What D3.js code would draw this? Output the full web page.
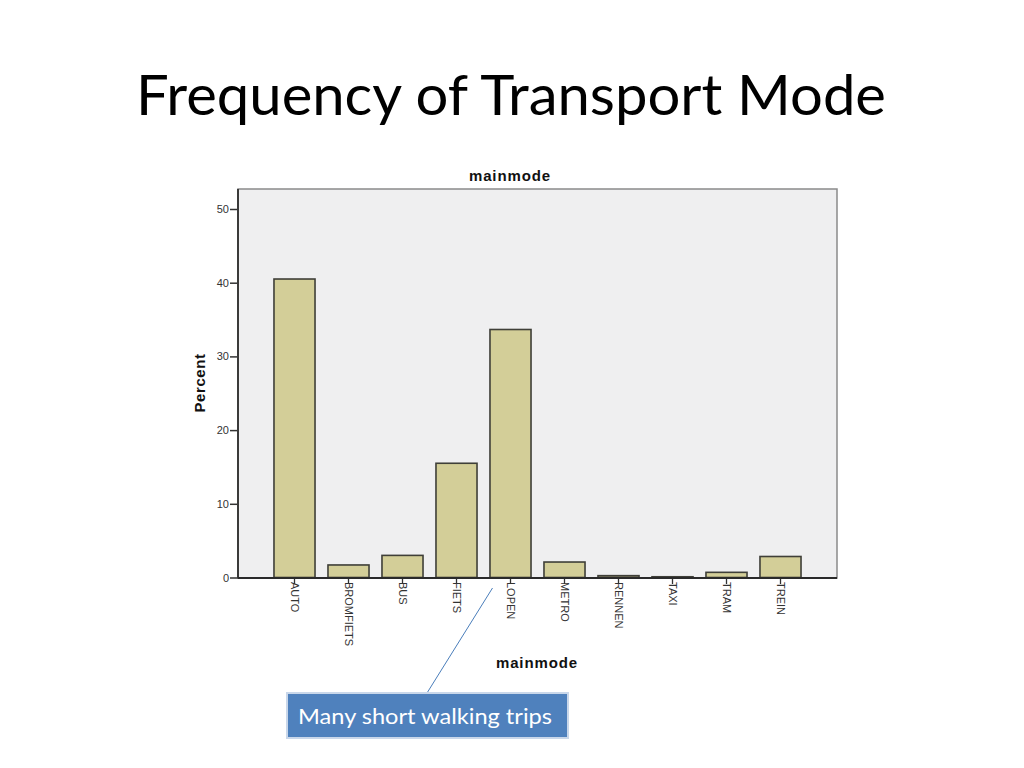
<!DOCTYPE html>
<html>
<head>
<meta charset="utf-8">
<script src="https://cdn.jsdelivr.net/npm/d3@7"></script>
<style>
  html, body { margin: 0; padding: 0; background: #ffffff; }
  svg { display: block; }
</style>
</head>
<body>
<svg id="chart" width="1024" height="768"></svg>
<script>
// ---- data ----
const categories = ["AUTO", "BROMFIETS", "BUS", "FIETS", "LOPEN", "METRO", "RENNEN", "TAXI", "TRAM", "TREIN"];
const percentValues = [40.5, 1.7, 3.0, 15.5, 33.65, 2.1, 0.25, 0.1, 0.7, 2.85];
const yTicks = [0, 10, 20, 30, 40, 50];
const slideTitle = "Frequency of Transport Mode";
const chartTitle = "mainmode";
const xAxisTitle = "mainmode";
const yAxisTitle = "Percent";
const calloutText = "Many short walking trips";
const calloutCategory = "LOPEN";

// ---- layout ----
const svg = d3.select("#chart");
const frame = { left: 238, right: 837, top: 189, bottom: 578 };

const x = d3.scaleBand()
  .domain(categories)
  .range([267.5, 807.5])
  .paddingInner(0.24)
  .paddingOuter(0.12);

const y = d3.scaleLinear()
  .domain([0, 50])
  .range([577.5, 209]);

// slide title
const t = svg.append("text")
  .attr("x", 511)
  .attr("y", 115)
  .attr("text-anchor", "middle")
  .attr("font-family", "Lato, 'Open Sans', sans-serif")
  .attr("font-size", 57)
  .attr("fill", "#000")
  .text(slideTitle);
const tw = t.node().getComputedTextLength();
if (tw > 0) t.attr("textLength", 750).attr("lengthAdjust", "spacingAndGlyphs");

// chart title
svg.append("text")
  .attr("x", 510)
  .attr("y", 181)
  .attr("text-anchor", "middle")
  .attr("font-family", "'Liberation Sans', Arial, sans-serif")
  .attr("font-weight", "bold")
  .attr("font-size", 15)
  .attr("letter-spacing", 0.9)
  .attr("fill", "#111")
  .text(chartTitle);

// plot background
svg.append("rect")
  .attr("x", frame.left)
  .attr("y", frame.top)
  .attr("width", frame.right - frame.left)
  .attr("height", frame.bottom - frame.top)
  .attr("fill", "#efeff0")
  .attr("stroke", "#8a8a8a")
  .attr("stroke-width", 1.5);

// bars
svg.append("g").selectAll("rect")
  .data(categories.map((c, i) => ({ c, v: percentValues[i] })))
  .join("rect")
  .attr("x", d => x(d.c))
  .attr("y", d => y(d.v))
  .attr("width", x.bandwidth())
  .attr("height", d => Math.max(0.8, y(0) - y(d.v)))
  .attr("fill", "#d3ce98")
  .attr("stroke", "#3f3f38")
  .attr("stroke-width", 1.6);

// y axis
const yAxis = d3.axisLeft(y).tickValues(yTicks).tickSize(8).tickPadding(1).tickFormat(d3.format("d"));
const gy = svg.append("g").attr("transform", `translate(${frame.left},0)`).call(yAxis);
gy.select(".domain").remove();
gy.selectAll(".tick line").attr("stroke", "#333").attr("stroke-width", 1.5);
gy.selectAll(".tick text")
  .attr("font-family", "'Liberation Sans', Arial, sans-serif")
  .attr("font-size", 11)
  .attr("fill", "#333");

// x axis
const xAxis = d3.axisBottom(x).tickSize(6).tickPadding(0);
const gx = svg.append("g").attr("transform", `translate(0,${frame.bottom})`).call(xAxis);
gx.select(".domain").remove();
gx.selectAll(".tick line").attr("stroke", "#333").attr("stroke-width", 1.3);
gx.selectAll(".tick text")
  .attr("font-family", "'Liberation Sans', Arial, sans-serif")
  .attr("font-size", 11)
  .attr("fill", "#333")
  .attr("text-anchor", "start")
  .attr("dy", "0.35em")
  .attr("transform", "translate(0,4) rotate(90)")
  .attr("x", 0)
  .attr("y", 0);

// axis lines (left and bottom, darker)
svg.append("line")
  .attr("x1", frame.left).attr("x2", frame.left)
  .attr("y1", frame.top).attr("y2", frame.bottom)
  .attr("stroke", "#3a3a3a").attr("stroke-width", 2);
svg.append("line")
  .attr("x1", frame.left).attr("x2", frame.right)
  .attr("y1", frame.bottom).attr("y2", frame.bottom)
  .attr("stroke", "#2a2a2a").attr("stroke-width", 2);

// axis titles
svg.append("text")
  .attr("transform", "translate(205,383) rotate(-90)")
  .attr("text-anchor", "middle")
  .attr("font-family", "'Liberation Sans', Arial, sans-serif")
  .attr("font-weight", "bold")
  .attr("font-size", 15)
  .attr("letter-spacing", 0.6)
  .attr("fill", "#111")
  .text(yAxisTitle);

svg.append("text")
  .attr("x", 537)
  .attr("y", 668)
  .attr("text-anchor", "middle")
  .attr("font-family", "'Liberation Sans', Arial, sans-serif")
  .attr("font-weight", "bold")
  .attr("font-size", 15)
  .attr("letter-spacing", 0.9)
  .attr("fill", "#111")
  .text(xAxisTitle);

// callout
const box = { x: 287, y: 693, w: 281, h: 45 };
const cx = x(calloutCategory) + x.bandwidth() / 2 - 18;
svg.append("line")
  .attr("x1", 427).attr("y1", box.y)
  .attr("x2", cx).attr("y2", 588)
  .attr("stroke", "#4a7ebb").attr("stroke-width", 1);
svg.append("rect")
  .attr("x", box.x).attr("y", box.y)
  .attr("width", box.w).attr("height", box.h)
  .attr("fill", "#4f81bd")
  .attr("stroke", "#c9d7ea")
  .attr("stroke-width", 2);
svg.append("text")
  .attr("x", 298)
  .attr("y", 724)
  .attr("font-family", "Lato, 'Open Sans', sans-serif")
  .attr("font-size", 22)
  .attr("fill", "#ffffff")
  .attr("textLength", 254)
  .attr("lengthAdjust", "spacingAndGlyphs")
  .text(calloutText);
</script>
</body>
</html>
